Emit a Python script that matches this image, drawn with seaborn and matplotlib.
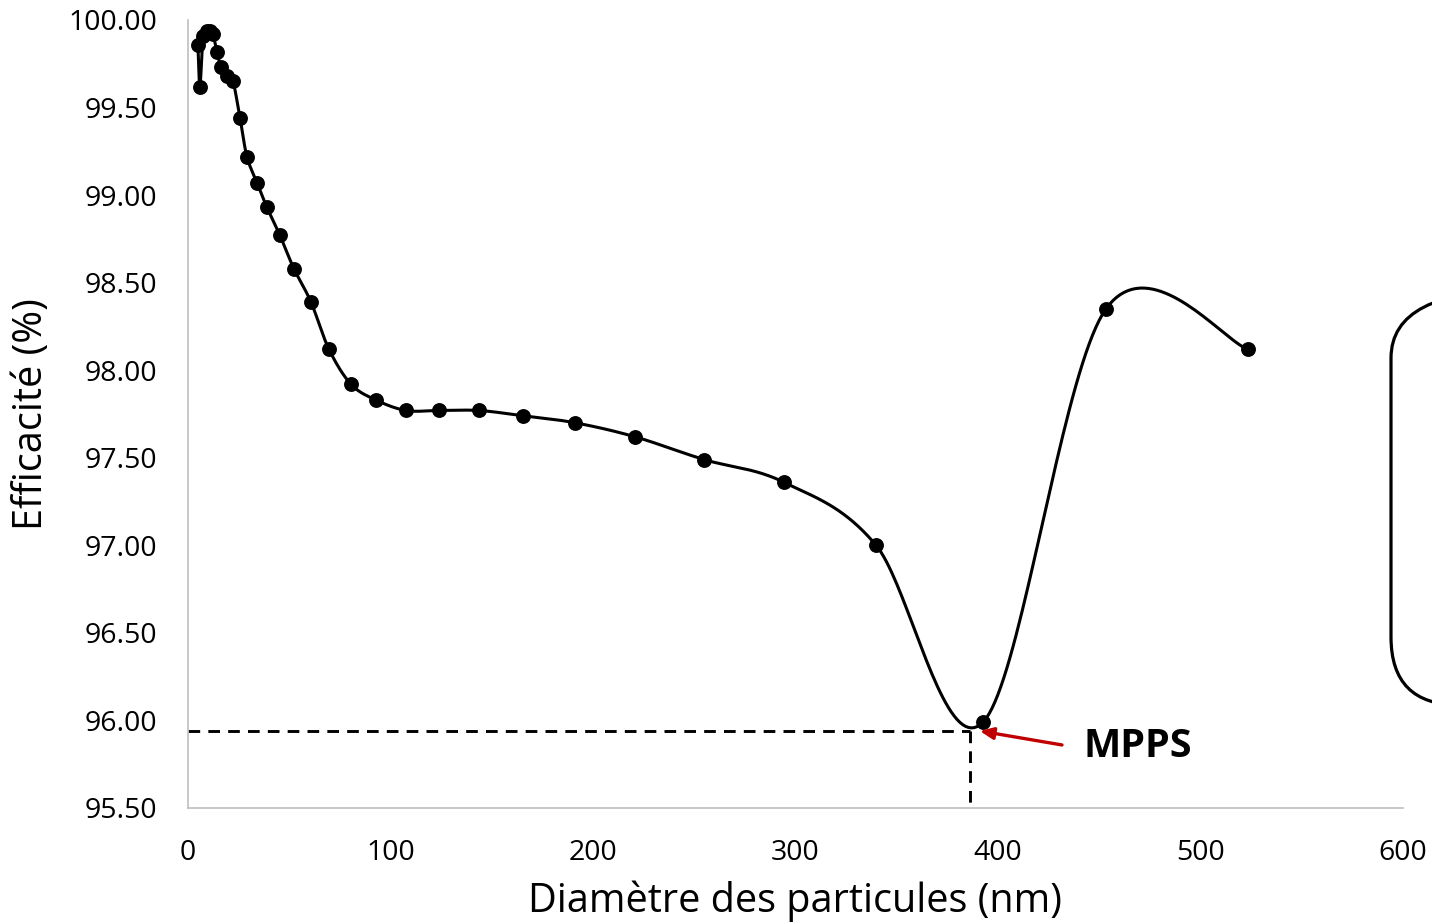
import numpy as np
import pandas as pd
import seaborn as sns
import matplotlib.pyplot as plt
from matplotlib.patches import FancyBboxPatch
from matplotlib.transforms import IdentityTransform
from matplotlib.ticker import FormatStrFormatter

# Values
diametre = [4.9, 5.9, 7.4, 9.4, 10.9, 12.3, 14.3, 16.3, 19.3, 22.2, 25.7, 29.1,
            34.1, 39.0, 45.4, 52.3, 60.7, 69.6, 80.5, 92.8, 107.7, 124.0, 143.7,
            165.4, 191.1, 220.7, 254.8, 294.3, 339.8, 392.6, 453.3, 523.5]
efficacite = [99.86, 99.62, 99.91, 99.94, 99.94, 99.92, 99.82, 99.73, 99.68, 99.65,
              99.44, 99.22, 99.07, 98.93, 98.77, 98.58, 98.39, 98.12, 97.92, 97.83,
              97.77, 97.77, 97.77, 97.74, 97.70, 97.62, 97.49, 97.36, 97.00, 95.99,
              98.35, 98.12]
mpps_x = 386
mpps_y = 95.94
x_ticks = [0, 100, 200, 300, 400, 500, 600]
y_ticks = [95.5, 96.0, 96.5, 97.0, 97.5, 98.0, 98.5, 99.0, 99.5, 100.0]

df = pd.DataFrame({'d': diametre, 'eff': efficacite})


# Excel-like smoothed line (Catmull-Rom bezier through the points)
def smooth(xs, ys, n=40):
    p = np.column_stack([xs, ys])
    out = []
    for i in range(len(p) - 1):
        p0 = p[i - 1] if i > 0 else p[i]
        p1, p2 = p[i], p[i + 1]
        p3 = p[i + 2] if i + 2 < len(p) else p[i + 1]
        c1 = p1 + (p2 - p0) / 6
        c2 = p2 - (p3 - p1) / 6
        t = np.linspace(0, 1, n)[:, None]
        seg = ((1 - t) ** 3) * p1 + 3 * ((1 - t) ** 2) * t * c1 + 3 * (1 - t) * t ** 2 * c2 + t ** 3 * p2
        out.append(seg if i == 0 else seg[1:])
    out = np.vstack(out)
    return pd.DataFrame({'d': out[:, 0], 'eff': out[:, 1]})


curve = smooth(diametre, efficacite)

sns.set_style('white')
plt.rcParams['font.family'] = ['Open Sans', 'DejaVu Sans']
plt.rcParams['text.color'] = 'black'
plt.rcParams['axes.labelcolor'] = 'black'
plt.rcParams['xtick.color'] = 'black'
plt.rcParams['ytick.color'] = 'black'

fig = plt.figure(figsize=(14.32, 9.24), dpi=100)
ax = fig.add_axes([188 / 1432, 1 - 808 / 924, (1403 - 188) / 1432, (808 - 20) / 924])

sns.lineplot(data=curve, x='d', y='eff', sort=False, estimator=None,
             color='black', linewidth=2.2, ax=ax, zorder=3)
sns.scatterplot(data=df, x='d', y='eff', color='black', s=115, edgecolor='black',
                linewidth=0, ax=ax, zorder=4)

# dashed guide lines to the MPPS
ax.plot([0, mpps_x], [mpps_y, mpps_y], color='black', lw=2.1, ls=(0, (4, 2.8)), zorder=2)
ax.plot([mpps_x, mpps_x], [mpps_y, 95.5], color='black', lw=2.1, ls=(0, (4, 2.8)), zorder=2)

ax.annotate('', xy=(391, 95.94), xytext=(431.6, 95.86),
            arrowprops=dict(arrowstyle='-|>,head_length=0.8,head_width=0.35',
                            color='#C00000', lw=2.4, shrinkA=0, shrinkB=0), zorder=5)
ax.text(442, 95.85, 'MPPS', fontsize=28.5, fontweight='bold', va='center', ha='left')

ax.set_xlim(0, 600)
ax.set_ylim(95.5, 100.0)
ax.set_xticks(x_ticks)
ax.set_yticks(y_ticks)
ax.yaxis.set_major_formatter(FormatStrFormatter('%.2f'))
ax.tick_params(axis='both', length=0, labelsize=20.5)
ax.tick_params(axis='x', pad=22)
ax.tick_params(axis='y', pad=22)
ax.set_xlabel('Diamètre des particules (nm)', fontsize=28.5, labelpad=10)
ax.set_ylabel('Efficacité (%)', fontsize=28.5, labelpad=12)
ax.grid(False)
for side in ['top', 'right']:
    ax.spines[side].set_visible(False)
for side in ['left', 'bottom']:
    ax.spines[side].set_color('#BFBFBF')
    ax.spines[side].set_linewidth(1.2)

# partly visible rounded box at the right edge
box = FancyBboxPatch((1391, 219), 200, 415, boxstyle='round,pad=0,rounding_size=68',
                     transform=IdentityTransform(), fill=False, ec='black', lw=2.3)
fig.patches.append(box)

fig.savefig('out.png', dpi=100)
